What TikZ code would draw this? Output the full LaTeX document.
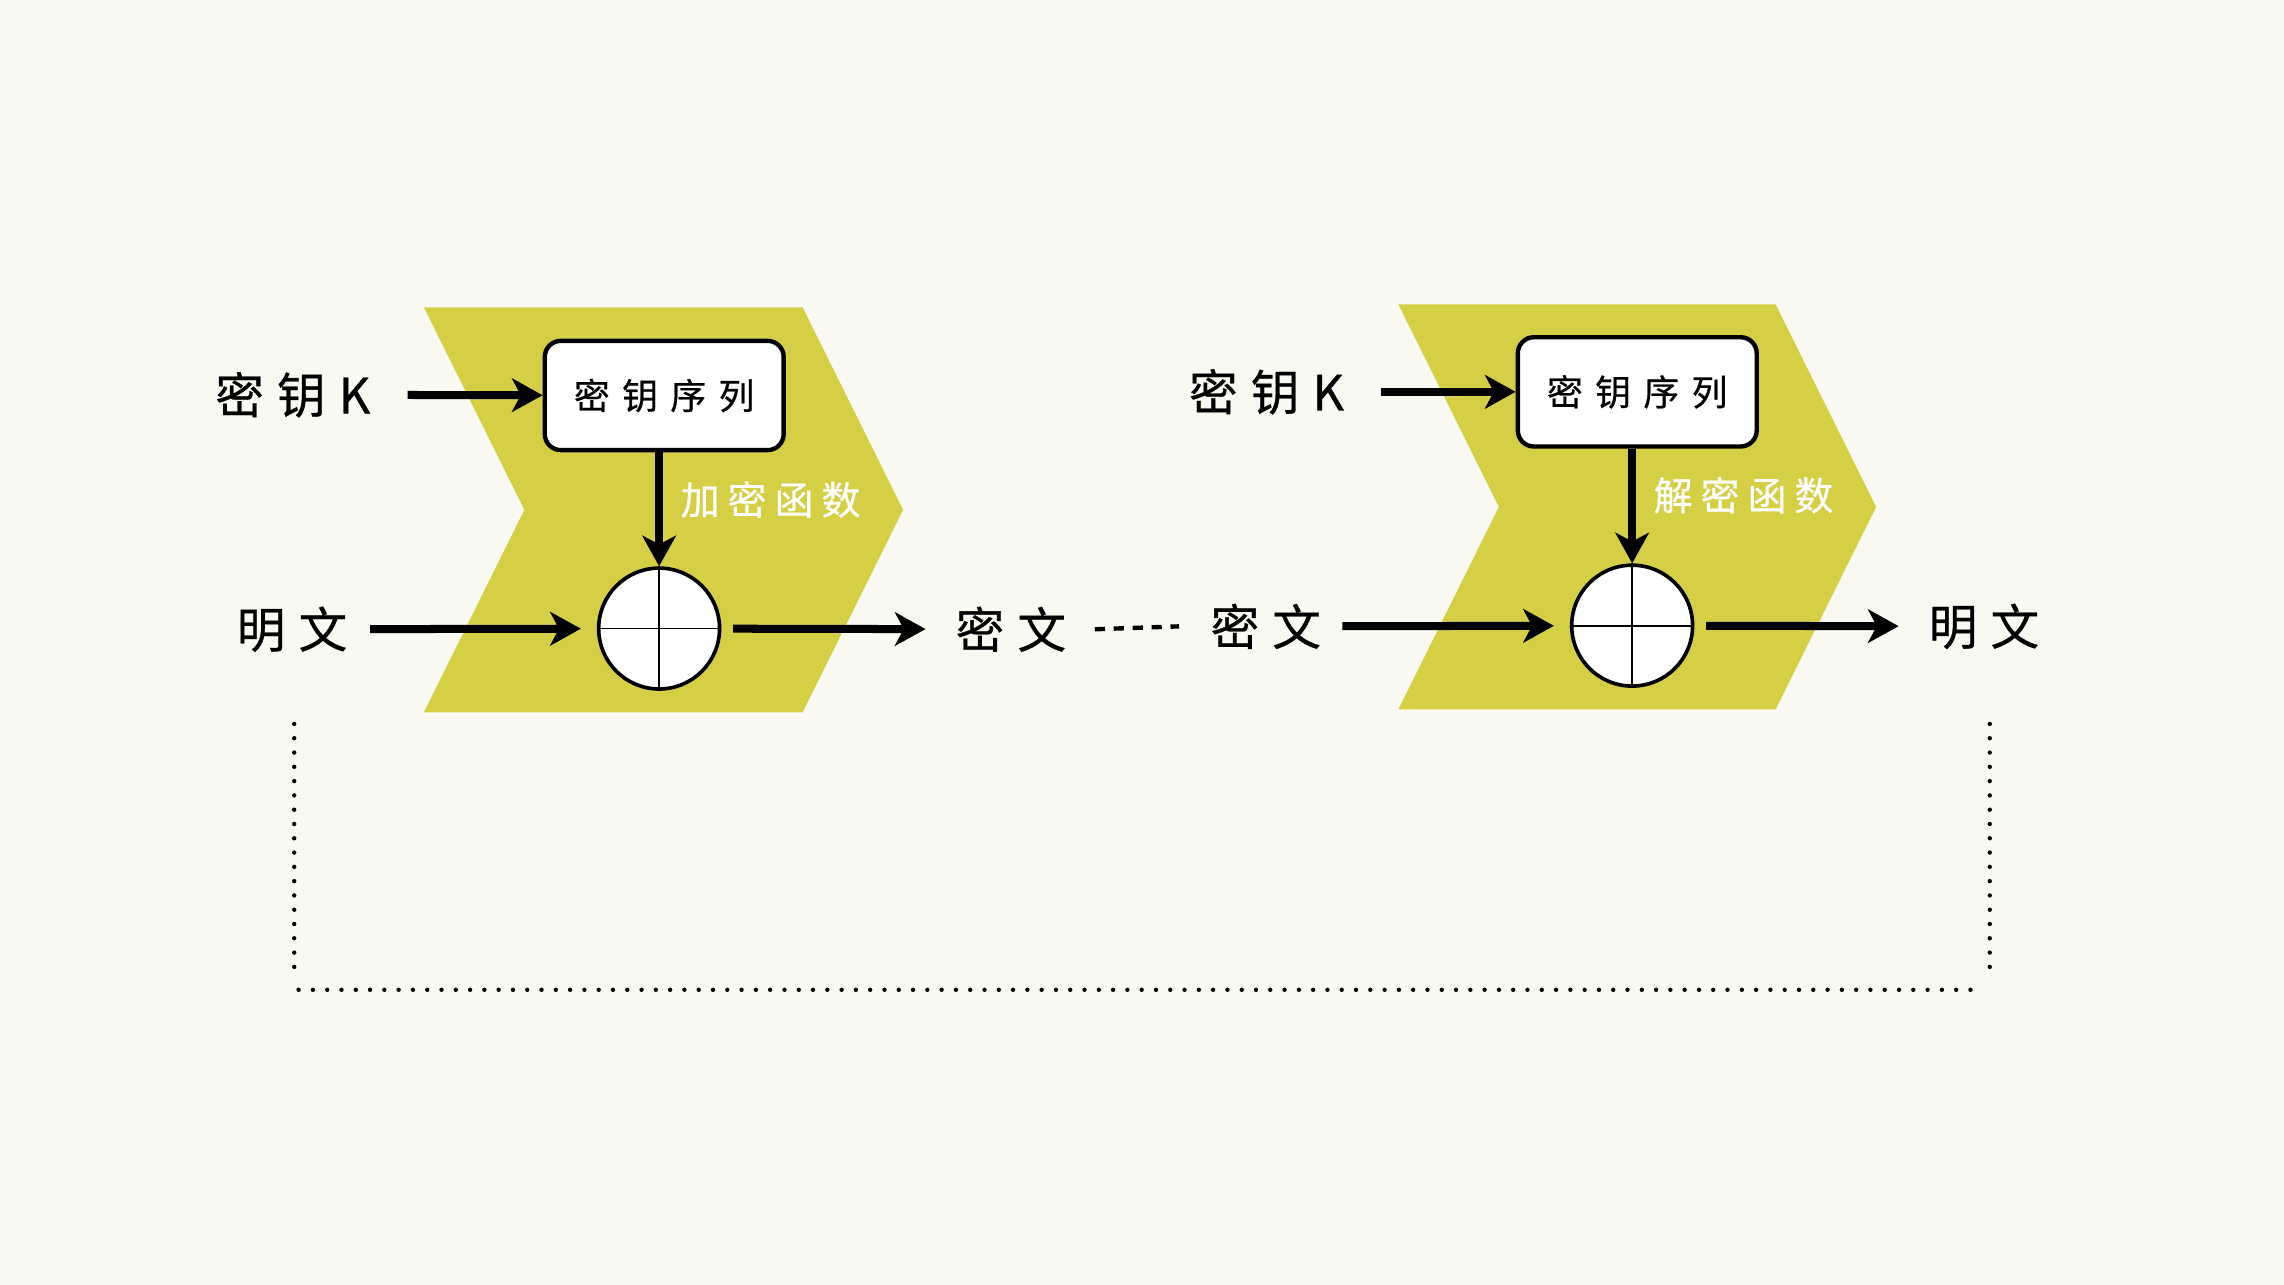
\documentclass[tikz,border=0pt]{standalone}
\usepackage{fontspec}
\newfontfamily\cjk[FakeBold=0.6]{Noto Sans CJK SC}
\usetikzlibrary{arrows.meta}
\definecolor{bgcol}{HTML}{F9F8F1}
\definecolor{chev}{HTML}{D5CF46}
\begin{document}
\begin{tikzpicture}[x=0.1mm,y=-0.1mm,
  lbl/.style={font=\cjk\fontsize{9.5pt}{11pt}\selectfont, inner sep=0pt, text=black},
  boxtxt/.style={font=\cjk\fontsize{7pt}{8pt}\selectfont},
  fntxt/.style={font=\cjk\fontsize{7.6pt}{9pt}\selectfont, inner sep=0pt, text=white},
  keybox/.style={draw=black, line width=0.3mm, fill=white, rounded corners=1.1mm,
    minimum width=16.4mm, minimum height=7.5mm, inner sep=0pt, boxtxt},
  xorc/.style={draw=black, line width=0.25mm, fill=white, circle, minimum size=8.3mm, inner sep=0pt},
  arr/.style={line width=0.55mm, -{Stealth[length=2.1mm, width=2.3mm, inset=0.6mm]}},
  dashline/.style={line width=0.3mm, dash pattern=on 0.7mm off 0.6mm},
  dotline/.style={line width=0.3mm, line cap=round, dash pattern=on 0pt off 0.981mm}
]
\fill[bgcol] (0,0) rectangle (1568,882);
\useasboundingbox (0,0) rectangle (1568,882);

% chevrons
\fill[chev] (291,211) -- (551,211) -- (620,350) -- (551,489) -- (291,489) -- (360,350) -- cycle;
\fill[chev] (960,209) -- (1219,209) -- (1288,348) -- (1219,487) -- (960,487) -- (1029,348) -- cycle;

% left (encryption)
\node[lbl] (k1) at (201,271) {密\hspace{0.9mm}钥\hspace{0.9mm}K};
\node[keybox] (b1) at (456,271.5) {密\hspace{0.85mm}钥\hspace{0.85mm}序\hspace{0.85mm}列};
\node[xorc] (x1) at (452.5,431.5) {};
\draw[line width=0.13mm] (x1.north) -- (x1.south) (x1.west) -- (x1.east);
\node[fntxt] (f1) at (529,343) {加\hspace{0.55mm}密\hspace{0.55mm}函\hspace{0.55mm}数};
\node[lbl] (p1) at (200.5,432) {明\hspace{0.9mm}文};
\node[lbl] (c1) at (694,432) {密\hspace{0.9mm}文};

% right (decryption)
\node[lbl] (k2) at (869.5,269) {密\hspace{0.9mm}钥\hspace{0.9mm}K};
\node[keybox] (b2) at (1124,269) {密\hspace{0.85mm}钥\hspace{0.85mm}序\hspace{0.85mm}列};
\node[xorc] (x2) at (1120.5,429.5) {};
\draw[line width=0.13mm] (x2.north) -- (x2.south) (x2.west) -- (x2.east);
\node[fntxt] (f2) at (1197,340) {解\hspace{0.55mm}密\hspace{0.55mm}函\hspace{0.55mm}数};
\node[lbl] (c2) at (869,430) {密\hspace{0.9mm}文};
\node[lbl] (p2) at (1362,430) {明\hspace{0.9mm}文};

% connectors left
\draw[arr, shorten <=2.5mm] (k1) -- (b1);
\draw[arr] (b1.south -| x1) -- (x1.north);
\draw[arr, shorten <=1.5mm, shorten >=1.1mm] (p1) -- (x1);
\draw[arr, shorten <=0.8mm, shorten >=2.0mm] (x1) -- (c1);
\draw[dashline] ([xshift=1.9mm]c1.east) -- ([xshift=-2.1mm]c2.west);

% connectors right
\draw[arr, shorten <=2.5mm] (k2) -- (b2);
\draw[arr] (b2.south -| x2) -- (x2.north);
\draw[arr, shorten <=1.4mm, shorten >=1.1mm] (c2) -- (x2);
\draw[arr, shorten <=0.8mm, shorten >=2.0mm] (x2) -- (p2);

% dotted bracket
\draw[dotline] (202,497) -- (202,663.8);
\draw[dotline] (205,679.5) -- (1352.8,679.5);
\draw[dotline] (1366,497) -- (1366,663.8);
\end{tikzpicture}
\end{document}
